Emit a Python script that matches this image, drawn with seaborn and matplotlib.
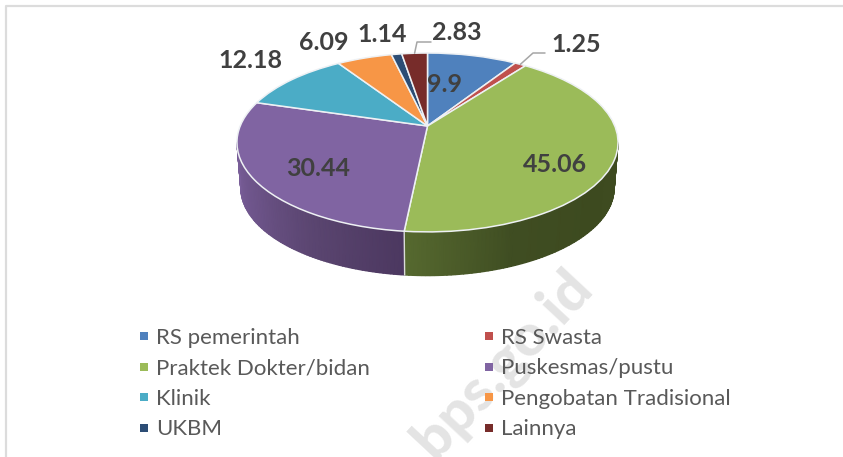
import numpy as np
import matplotlib
matplotlib.use("Agg")
import matplotlib.pyplot as plt
from matplotlib.colors import LinearSegmentedColormap
from matplotlib.lines import Line2D
from matplotlib.path import Path
from matplotlib.transforms import Transform
import seaborn as sns

categories = ["RS pemerintah", "RS Swasta", "Praktek Dokter/bidan", "Puskesmas/pustu",
              "Klinik", "Pengobatan Tradisional", "UKBM", "Lainnya"]
values = [9.9, 1.25, 45.06, 30.44, 12.18, 6.09, 1.14, 2.83]
value_labels = ["9.9", "1.25", "45.06", "30.44", "12.18", "6.09", "1.14", "2.83"]
colors = ["#4f81bd", "#c0504d", "#9bbb59", "#8064a2", "#4bacc6", "#f79646", "#2c4d75", "#772c2a"]

sns.set_theme(style="white")
plt.rcParams["font.family"] = ["Lato", "DejaVu Sans"]

W, H = 843, 457
fig = plt.figure(figsize=(W / 100, H / 100), dpi=100, facecolor="white")
ax = fig.add_axes([0, 0, 1, 1])

CX, CY, A, B, K = 427.5, 126.0, 187.3, 86.4, 0.184
DROP, SHRINK = 46.0, 0.98


def project(u, v, scale=1.0, dy=0.0):
    w = 1 + K * v
    return CX + scale * A * u / w, CY + dy - scale * B * v / w


class Perspective(Transform):
    input_dims = output_dims = 2
    has_inverse = False

    def transform_non_affine(self, pts):
        x, y = project(pts[:, 0], pts[:, 1])
        return np.column_stack([x, y])

    def transform_path_non_affine(self, path):
        return Path(self.transform_non_affine(path.vertices), path.codes)


wedges, _ = ax.pie(values, colors=colors, startangle=90, counterclock=False,
                   wedgeprops=dict(edgecolor="#eef1f4", linewidth=1.1))
ax.set_aspect("auto")
ax.set_xlim(0, W)
ax.set_ylim(H, 0)
ax.axis("off")
persp = Perspective()
for w in wedges:
    w.set_transform(persp + ax.transData)
    w.set_zorder(3)

# side wall (only the near half of the disc shows)
fr = np.cumsum(values) / np.sum(values)
split = 90 - 360 * fr[2]          # green / purple boundary, math degrees
t_right = -np.degrees(np.arcsin(K))
t_left = -180 - t_right


def wall(t0, t1, cols):
    t = np.radians(np.linspace(t0, t1, 80))
    u, v = np.cos(t), np.sin(t)
    x0, y0 = project(u, v)
    x1, y1 = project(u, v, SHRINK, DROP)
    X = np.vstack([x0, x1])
    Y = np.vstack([y0, y1])
    C = np.vstack([np.linspace(0, 1, 80)] * 2)
    ax.pcolormesh(X, Y, C, shading="gouraud", zorder=1,
                  cmap=LinearSegmentedColormap.from_list("w", cols))
    return x0, y0, x1, y1


wall(t_right, split, ["#3f4c21", "#3d4a1f", "#3f4d22", "#56692f"])
xa, ya, xb, yb = wall(split, t_left, ["#4c3860", "#5a4570", "#6c5388", "#7a5f9a"])
ax.plot([xa[0], xb[0]], [ya[0], yb[0]], color="#d9dcd8", lw=1.0, zorder=2)

# data labels
text_kw = dict(fontsize=18, fontweight="bold", color="#404040", ha="center", va="center", zorder=5)
label_pos = [(445, 84), (576, 45), (555, 165), (318, 168), (250, 60), (324, 42), (382, 34), (457, 33)]
for s, (x, y) in zip(value_labels, label_pos):
    ax.text(x, y, s, **text_kw)

# leader lines from the rim of the two thin slices
for i, (ex, ey, tx) in {1: (533, 53, 545), 7: (417, 42, 431)}.items():
    mid = np.radians(90 - 360 * (fr[i] - values[i] / np.sum(values) / 2))
    sx, sy = project(np.cos(mid), np.sin(mid))
    ax.plot([sx, ex, tx], [sy, ey, ey], color="#a6a6a6", lw=1.1, zorder=4)

# legend, filled column by column
order = [0, 2, 4, 6, 1, 3, 5, 7]
handles = [Line2D([], [], ls="", marker="s", ms=5.2, color=colors[i], mew=0) for i in order]
leg = ax.legend(handles, [categories[i] for i in order], ncol=2, frameon=False,
                loc="upper left", bbox_to_anchor=(135 / W, 1 - 328 / H),
                bbox_transform=ax.transAxes, fontsize=16, labelcolor="#595959",
                handlelength=0.8, handletextpad=0.14, columnspacing=4.98, labelspacing=0.47,
                borderpad=0, borderaxespad=0)
leg.set_zorder(6)

# panel border
ax.plot([6, 6, W], [H, 5.5, 5.5], color="#dcdcdc", lw=1.6, zorder=0)

# watermark
ax.text(595, 291, "o.bps.go.id", rotation=47, rotation_mode="anchor", ha="right", va="baseline",
        fontsize=42, fontweight="black", color="#e4e4e4", zorder=0.5)

fig.savefig("out.png", dpi=100, facecolor="white")
